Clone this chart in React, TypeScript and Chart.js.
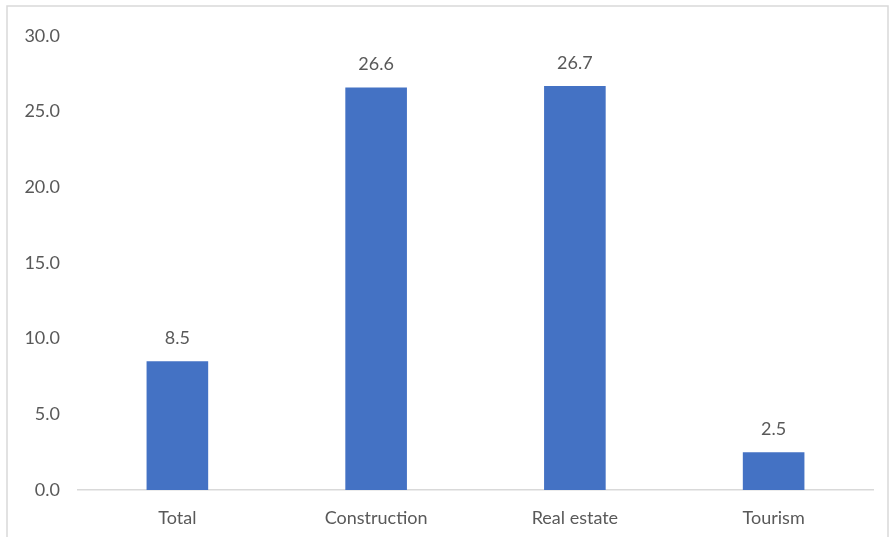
import React, { useEffect, useRef } from "react";
import { Chart, registerables } from "chart.js";

Chart.register(...registerables);

const categories = ["Total", "Construction", "Real estate", "Tourism"];
const values = [8.5, 26.6, 26.7, 2.5];
const yMin = 0;
const yMax = 30;
const yStep = 5;

const FONT = "Lato, 'Open Sans', sans-serif";
const TEXT = "#595959";

const frame = {
  id: "frame",
  beforeDraw(chart: any) {
    const { ctx, width, height } = chart;
    ctx.save();
    ctx.fillStyle = "#ffffff";
    ctx.fillRect(0, 0, width, height);
    ctx.strokeStyle = "#d9d9d9";
    ctx.lineWidth = 1.5;
    ctx.beginPath();
    ctx.moveTo(7, height);
    ctx.lineTo(7, 6);
    ctx.lineTo(888, 6);
    ctx.lineTo(888, height);
    ctx.stroke();
    ctx.restore();
  },
};

const labelsPlugin = {
  id: "valueLabels",
  afterDatasetsDraw(chart: any) {
    const { ctx } = chart;
    const meta = chart.getDatasetMeta(0);
    ctx.save();
    ctx.fillStyle = TEXT;
    ctx.font = `18px ${FONT}`;
    ctx.textAlign = "center";
    ctx.textBaseline = "middle";
    meta.data.forEach((bar: any, i: number) => {
      ctx.fillText(values[i].toFixed(1), bar.x, bar.y - 23);
    });
    ctx.restore();
  },
};

export default function App() {
  const ref = useRef<HTMLCanvasElement>(null);
  useEffect(() => {
    if (!ref.current) return;
    const chart = new Chart(ref.current, {
      type: "bar",
      data: {
        labels: categories,
        datasets: [
          {
            data: values,
            backgroundColor: "#4472C4",
            barPercentage: 0.62,
            categoryPercentage: 0.5,
          },
        ],
      },
      options: {
        animation: false,
        responsive: false,
        maintainAspectRatio: false,
        layout: { padding: { top: 36, right: 19, left: 0, bottom: 0 } },
        plugins: {
          legend: { display: false },
          tooltip: { enabled: false },
        },
        scales: {
          x: {
            grid: { display: false, drawTicks: false },
            border: { display: true, color: "#d9d9d9", width: 1.5 },
            ticks: {
              color: TEXT,
              font: { family: FONT, size: 18 },
              padding: 17,
            },
            afterFit(scale: any) {
              scale.height = 47;
            },
          },
          y: {
            min: yMin,
            max: yMax,
            grid: { display: false, drawTicks: false },
            border: { display: false },
            ticks: {
              stepSize: yStep,
              color: TEXT,
              font: { family: FONT, size: 18 },
              padding: 18,
              callback: (v: any) => Number(v).toFixed(1),
            },
            afterFit(scale: any) {
              scale.width = 78;
            },
          },
        },
      },
      plugins: [frame, labelsPlugin],
    });
    return () => chart.destroy();
  }, []);
  return (
    <div style={{ position: "absolute", left: 0, top: 0, width: 892, height: 537 }}>
      <canvas ref={ref} width={892} height={537} style={{ width: 892, height: 537, display: "block" }} />
    </div>
  );
}
